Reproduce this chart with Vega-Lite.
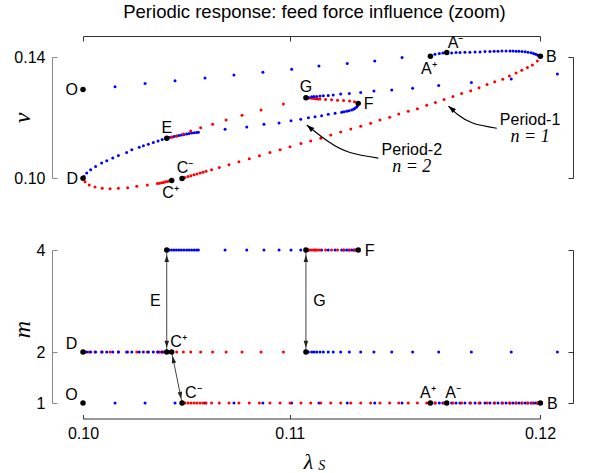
{
"$schema":"https://vega.github.io/schema/vega-lite/v6.json",
"autosize":{"type":"none"},
"padding":{"left":83,"top":57,"right":49,"bottom":416},
"title":{"text":"Periodic response: feed force influence (zoom)","font":"Liberation Sans","fontSize":18.5,"fontWeight":"normal","color":"#000","anchor":"middle","frame":"group","offset":14,"dx":3},
"config":{"view":{"stroke":null},"axis":{"grid":false,"labelFont":"Liberation Sans","labelFontSize":16,"labelColor":"#000","labelFlush":false,"labelOverlap":false},"text":{"font":"Liberation Sans","fontSize":16,"color":"#000"}},
"datasets":{
"curve":[
{"lam":0.10000,"v":0.12928,"m":1,"stability":"stable"},
{"lam":0.10155,"v":0.13013,"m":1,"stability":"stable"},
{"lam":0.10300,"v":0.13125,"m":1,"stability":"stable"},
{"lam":0.10445,"v":0.13211,"m":1,"stability":"stable"},
{"lam":0.10590,"v":0.13309,"m":1,"stability":"stable"},
{"lam":0.10730,"v":0.13408,"m":1,"stability":"stable"},
{"lam":0.10870,"v":0.13497,"m":1,"stability":"stable"},
{"lam":0.11009,"v":0.13595,"m":1,"stability":"stable"},
{"lam":0.11141,"v":0.13704,"m":1,"stability":"stable"},
{"lam":0.11278,"v":0.13783,"m":1,"stability":"stable"},
{"lam":0.11411,"v":0.13868,"m":1,"stability":"stable"},
{"lam":0.11543,"v":0.13980,"m":1,"stability":"stable"},
{"lam":0.11680,"v":0.14023,"m":1,"stability":"stable"},
{"lam":0.11702,"v":0.14089,"m":1,"stability":"stable"},
{"lam":0.11723,"v":0.14112,"m":1,"stability":"stable"},
{"lam":0.11740,"v":0.14132,"m":1,"stability":"stable"},
{"lam":0.11759,"v":0.14145,"m":1,"stability":"stable"},
{"lam":0.11783,"v":0.14132,"m":1,"stability":"stable"},
{"lam":0.11804,"v":0.14145,"m":1,"stability":"stable"},
{"lam":0.11823,"v":0.14145,"m":1,"stability":"stable"},
{"lam":0.11847,"v":0.14155,"m":1,"stability":"stable"},
{"lam":0.11871,"v":0.14155,"m":1,"stability":"stable"},
{"lam":0.11896,"v":0.14164,"m":1,"stability":"stable"},
{"lam":0.11920,"v":0.14164,"m":1,"stability":"stable"},
{"lam":0.11944,"v":0.14178,"m":1,"stability":"stable"},
{"lam":0.11968,"v":0.14178,"m":1,"stability":"stable"},
{"lam":0.11988,"v":0.14188,"m":1,"stability":"stable"},
{"lam":0.12007,"v":0.14194,"m":1,"stability":"stable"},
{"lam":0.12026,"v":0.14197,"m":1,"stability":"stable"},
{"lam":0.12046,"v":0.14197,"m":1,"stability":"stable"},
{"lam":0.12065,"v":0.14197,"m":1,"stability":"stable"},
{"lam":0.12079,"v":0.14197,"m":1,"stability":"stable"},
{"lam":0.12094,"v":0.14194,"m":1,"stability":"stable"},
{"lam":0.12108,"v":0.14188,"m":1,"stability":"stable"},
{"lam":0.12123,"v":0.14181,"m":1,"stability":"stable"},
{"lam":0.12138,"v":0.14171,"m":1,"stability":"stable"},
{"lam":0.12152,"v":0.14158,"m":1,"stability":"stable"},
{"lam":0.12167,"v":0.14138,"m":1,"stability":"stable"},
{"lam":0.12179,"v":0.14115,"m":1,"stability":"stable"},
{"lam":0.12189,"v":0.14089,"m":1,"stability":"stable"},
{"lam":0.12198,"v":0.14063,"m":1,"stability":"stable"},
{"lam":0.12205,"v":0.14039,"m":1,"stability":"stable"},
{"lam":0.12197,"v":0.13868,"m":1,"stability":"unstable"},
{"lam":0.12173,"v":0.13737,"m":1,"stability":"unstable"},
{"lam":0.12149,"v":0.13651,"m":1,"stability":"unstable"},
{"lam":0.12122,"v":0.13562,"m":1,"stability":"unstable"},
{"lam":0.12094,"v":0.13474,"m":1,"stability":"unstable"},
{"lam":0.12062,"v":0.13375,"m":1,"stability":"unstable"},
{"lam":0.12030,"v":0.13266,"m":1,"stability":"unstable"},
{"lam":0.11991,"v":0.13178,"m":1,"stability":"unstable"},
{"lam":0.11954,"v":0.13092,"m":1,"stability":"unstable"},
{"lam":0.11915,"v":0.12980,"m":1,"stability":"unstable"},
{"lam":0.11875,"v":0.12882,"m":1,"stability":"unstable"},
{"lam":0.11831,"v":0.12796,"m":1,"stability":"unstable"},
{"lam":0.11789,"v":0.12697,"m":1,"stability":"unstable"},
{"lam":0.11746,"v":0.12599,"m":1,"stability":"unstable"},
{"lam":0.11704,"v":0.12500,"m":1,"stability":"unstable"},
{"lam":0.11662,"v":0.12401,"m":1,"stability":"unstable"},
{"lam":0.11617,"v":0.12289,"m":1,"stability":"unstable"},
{"lam":0.11573,"v":0.12204,"m":1,"stability":"unstable"},
{"lam":0.11527,"v":0.12115,"m":1,"stability":"unstable"},
{"lam":0.11483,"v":0.12007,"m":1,"stability":"unstable"},
{"lam":0.11436,"v":0.11918,"m":1,"stability":"unstable"},
{"lam":0.11391,"v":0.11809,"m":1,"stability":"unstable"},
{"lam":0.11343,"v":0.11711,"m":1,"stability":"unstable"},
{"lam":0.11295,"v":0.11622,"m":1,"stability":"unstable"},
{"lam":0.11246,"v":0.11523,"m":1,"stability":"unstable"},
{"lam":0.11198,"v":0.11424,"m":1,"stability":"unstable"},
{"lam":0.11150,"v":0.11316,"m":1,"stability":"unstable"},
{"lam":0.11101,"v":0.11227,"m":1,"stability":"unstable"},
{"lam":0.11054,"v":0.11138,"m":1,"stability":"unstable"},
{"lam":0.11001,"v":0.11033,"m":1,"stability":"unstable"},
{"lam":0.10953,"v":0.10934,"m":1,"stability":"unstable"},
{"lam":0.10904,"v":0.10839,"m":1,"stability":"unstable"},
{"lam":0.10853,"v":0.10734,"m":1,"stability":"unstable"},
{"lam":0.10804,"v":0.10638,"m":1,"stability":"unstable"},
{"lam":0.10754,"v":0.10536,"m":1,"stability":"unstable"},
{"lam":0.10706,"v":0.10441,"m":1,"stability":"unstable"},
{"lam":0.10659,"v":0.10345,"m":1,"stability":"unstable"},
{"lam":0.10622,"v":0.10273,"m":1,"stability":"unstable"},
{"lam":0.10595,"v":0.10224,"m":1,"stability":"unstable"},
{"lam":0.10580,"v":0.10194,"m":1,"stability":"unstable"},
{"lam":0.10566,"v":0.10164,"m":1,"stability":"unstable"},
{"lam":0.10551,"v":0.10135,"m":1,"stability":"unstable"},
{"lam":0.10537,"v":0.10105,"m":1,"stability":"unstable"},
{"lam":0.10522,"v":0.10076,"m":1,"stability":"unstable"},
{"lam":0.10508,"v":0.10046,"m":1,"stability":"unstable"},
{"lam":0.10493,"v":0.10016,"m":1,"stability":"unstable"},
{"lam":0.10418,"v":0.09905,"m":2,"stability":"unstable"},
{"lam":0.10409,"v":0.09888,"m":2,"stability":"unstable"},
{"lam":0.10399,"v":0.09872,"m":2,"stability":"unstable"},
{"lam":0.10389,"v":0.09855,"m":2,"stability":"unstable"},
{"lam":0.10380,"v":0.09842,"m":2,"stability":"unstable"},
{"lam":0.10370,"v":0.09829,"m":2,"stability":"unstable"},
{"lam":0.10360,"v":0.09816,"m":2,"stability":"unstable"},
{"lam":0.10311,"v":0.09770,"m":2,"stability":"unstable"},
{"lam":0.10260,"v":0.09724,"m":2,"stability":"unstable"},
{"lam":0.10216,"v":0.09681,"m":2,"stability":"unstable"},
{"lam":0.10171,"v":0.09658,"m":2,"stability":"unstable"},
{"lam":0.10131,"v":0.09648,"m":2,"stability":"unstable"},
{"lam":0.10093,"v":0.09658,"m":2,"stability":"unstable"},
{"lam":0.10058,"v":0.09704,"m":2,"stability":"unstable"},
{"lam":0.10030,"v":0.09770,"m":2,"stability":"unstable"},
{"lam":0.10010,"v":0.09878,"m":2,"stability":"unstable"},
{"lam":0.10005,"v":0.10053,"m":2,"stability":"stable"},
{"lam":0.10018,"v":0.10164,"m":2,"stability":"stable"},
{"lam":0.10037,"v":0.10273,"m":2,"stability":"stable"},
{"lam":0.10061,"v":0.10382,"m":2,"stability":"stable"},
{"lam":0.10090,"v":0.10493,"m":2,"stability":"stable"},
{"lam":0.10115,"v":0.10569,"m":2,"stability":"stable"},
{"lam":0.10144,"v":0.10658,"m":2,"stability":"stable"},
{"lam":0.10171,"v":0.10743,"m":2,"stability":"stable"},
{"lam":0.10211,"v":0.10842,"m":2,"stability":"stable"},
{"lam":0.10236,"v":0.10931,"m":2,"stability":"stable"},
{"lam":0.10272,"v":0.11020,"m":2,"stability":"stable"},
{"lam":0.10292,"v":0.11063,"m":2,"stability":"stable"},
{"lam":0.10316,"v":0.11118,"m":2,"stability":"stable"},
{"lam":0.10340,"v":0.11171,"m":2,"stability":"stable"},
{"lam":0.10363,"v":0.11227,"m":2,"stability":"stable"},
{"lam":0.10383,"v":0.11276,"m":2,"stability":"stable"},
{"lam":0.10416,"v":0.11336,"m":4,"stability":"stable"},
{"lam":0.10428,"v":0.11352,"m":4,"stability":"stable"},
{"lam":0.10440,"v":0.11372,"m":4,"stability":"stable"},
{"lam":0.10452,"v":0.11391,"m":4,"stability":"stable"},
{"lam":0.10464,"v":0.11408,"m":4,"stability":"stable"},
{"lam":0.10476,"v":0.11424,"m":4,"stability":"stable"},
{"lam":0.10488,"v":0.11441,"m":4,"stability":"stable"},
{"lam":0.10501,"v":0.11457,"m":4,"stability":"stable"},
{"lam":0.10513,"v":0.11474,"m":4,"stability":"stable"},
{"lam":0.10525,"v":0.11487,"m":4,"stability":"stable"},
{"lam":0.10537,"v":0.11497,"m":4,"stability":"stable"},
{"lam":0.10549,"v":0.11507,"m":4,"stability":"stable"},
{"lam":0.10558,"v":0.11513,"m":4,"stability":"stable"},
{"lam":0.10687,"v":0.11612,"m":4,"stability":"stable"},
{"lam":0.10792,"v":0.11688,"m":4,"stability":"stable"},
{"lam":0.10875,"v":0.11776,"m":4,"stability":"stable"},
{"lam":0.10948,"v":0.11819,"m":4,"stability":"stable"},
{"lam":0.11006,"v":0.11895,"m":4,"stability":"stable"},
{"lam":0.11053,"v":0.11941,"m":4,"stability":"stable"},
{"lam":0.11090,"v":0.11993,"m":4,"stability":"stable"},
{"lam":0.11122,"v":0.12026,"m":4,"stability":"stable"},
{"lam":0.11154,"v":0.12059,"m":4,"stability":"stable"},
{"lam":0.11186,"v":0.12105,"m":4,"stability":"stable"},
{"lam":0.11219,"v":0.12138,"m":4,"stability":"stable"},
{"lam":0.11251,"v":0.12171,"m":4,"stability":"stable"},
{"lam":0.11262,"v":0.12188,"m":4,"stability":"stable"},
{"lam":0.11275,"v":0.12204,"m":4,"stability":"stable"},
{"lam":0.11286,"v":0.12224,"m":4,"stability":"stable"},
{"lam":0.11299,"v":0.12247,"m":4,"stability":"stable"},
{"lam":0.11308,"v":0.12270,"m":4,"stability":"stable"},
{"lam":0.11315,"v":0.12303,"m":4,"stability":"stable"},
{"lam":0.11322,"v":0.12336,"m":4,"stability":"stable"},
{"lam":0.11327,"v":0.12378,"m":4,"stability":"stable"},
{"lam":0.11329,"v":0.12424,"m":4,"stability":"stable"},
{"lam":0.11313,"v":0.12520,"m":4,"stability":"unstable"},
{"lam":0.11289,"v":0.12543,"m":4,"stability":"unstable"},
{"lam":0.11260,"v":0.12559,"m":4,"stability":"unstable"},
{"lam":0.11231,"v":0.12572,"m":4,"stability":"unstable"},
{"lam":0.11202,"v":0.12586,"m":4,"stability":"unstable"},
{"lam":0.11173,"v":0.12599,"m":4,"stability":"unstable"},
{"lam":0.11146,"v":0.12609,"m":4,"stability":"unstable"},
{"lam":0.11136,"v":0.12615,"m":4,"stability":"unstable"},
{"lam":0.11127,"v":0.12622,"m":4,"stability":"unstable"},
{"lam":0.11117,"v":0.12628,"m":4,"stability":"unstable"},
{"lam":0.11107,"v":0.12635,"m":4,"stability":"unstable"},
{"lam":0.11098,"v":0.12641,"m":4,"stability":"unstable"},
{"lam":0.11088,"v":0.12648,"m":4,"stability":"unstable"},
{"lam":0.10430,"v":0.11349,"m":2,"stability":"unstable"},
{"lam":0.10453,"v":0.11391,"m":2,"stability":"unstable"},
{"lam":0.10485,"v":0.11457,"m":2,"stability":"unstable"},
{"lam":0.10521,"v":0.11556,"m":2,"stability":"unstable"},
{"lam":0.10569,"v":0.11664,"m":2,"stability":"unstable"},
{"lam":0.10627,"v":0.11776,"m":2,"stability":"unstable"},
{"lam":0.10692,"v":0.11918,"m":2,"stability":"unstable"},
{"lam":0.10769,"v":0.12072,"m":2,"stability":"unstable"},
{"lam":0.10861,"v":0.12247,"m":2,"stability":"unstable"},
{"lam":0.10969,"v":0.12444,"m":2,"stability":"unstable"},
{"lam":0.11090,"v":0.12664,"m":2,"stability":"stable"},
{"lam":0.11106,"v":0.12684,"m":2,"stability":"stable"},
{"lam":0.11117,"v":0.12691,"m":2,"stability":"stable"},
{"lam":0.11130,"v":0.12697,"m":2,"stability":"stable"},
{"lam":0.11146,"v":0.12707,"m":2,"stability":"stable"},
{"lam":0.11162,"v":0.12717,"m":2,"stability":"stable"},
{"lam":0.11186,"v":0.12730,"m":2,"stability":"stable"},
{"lam":0.11210,"v":0.12740,"m":2,"stability":"stable"},
{"lam":0.11246,"v":0.12773,"m":2,"stability":"stable"},
{"lam":0.11288,"v":0.12796,"m":2,"stability":"stable"},
{"lam":0.11343,"v":0.12829,"m":2,"stability":"stable"},
{"lam":0.11407,"v":0.12872,"m":2,"stability":"stable"},
{"lam":0.11493,"v":0.12905,"m":2,"stability":"stable"},
{"lam":0.11594,"v":0.12970,"m":2,"stability":"stable"},
{"lam":0.11720,"v":0.13059,"m":2,"stability":"stable"},
{"lam":0.11878,"v":0.13158,"m":2,"stability":"stable"},
{"lam":0.12071,"v":0.13276,"m":2,"stability":"stable"},
{"lam":0.12294,"v":0.13441,"m":2,"stability":"stable"}
],
"pointsV":[
{"name":"O","lam":0.1,"v":0.12928},
{"name":"D","lam":0.1,"v":0.0999},
{"name":"E","lam":0.10405,"v":0.11316},
{"name":"C⁻","lam":0.10479,"v":0.09987},
{"name":"C⁺","lam":0.10429,"v":0.09921},
{"name":"G","lam":0.11078,"v":0.12651},
{"name":"F","lam":0.11331,"v":0.12467},
{"name":"A⁺","lam":0.1168,"v":0.14023},
{"name":"A⁻","lam":0.11759,"v":0.14145},
{"name":"B","lam":0.12212,"v":0.14023}
],
"pointsM":[
{"name":"O","lam":0.1,"m":1},
{"name":"D","lam":0.1,"m":2},
{"name":"E","lam":0.10405,"m":4},
{"name":"E","lam":0.10405,"m":2},
{"name":"C⁺","lam":0.10429,"m":2},
{"name":"C⁻","lam":0.10479,"m":1},
{"name":"G","lam":0.11078,"m":4},
{"name":"G","lam":0.11078,"m":2},
{"name":"F","lam":0.11331,"m":4},
{"name":"A⁺","lam":0.1168,"m":1},
{"name":"A⁻","lam":0.11759,"m":1},
{"name":"B","lam":0.12212,"m":1}
],
"arrowsV":[
{"id":"p1","ord":1,"lam":0.12001,"v":0.11645},
{"id":"p1","ord":2,"lam":0.11887,"v":0.11809},
{"id":"p1","ord":3,"lam":0.11815,"v":0.12082},
{"id":"p1","ord":4,"lam":0.11767,"v":0.12378},
{"id":"p2","ord":1,"lam":0.11428,"v":0.10658},
{"id":"p2","ord":2,"lam":0.11291,"v":0.10842},
{"id":"p2","ord":3,"lam":0.11186,"v":0.11204},
{"id":"p2","ord":4,"lam":0.11082,"v":0.11753}
],
"notesV":[
{"note":"Period-1","lam":0.12162,"v":0.11918},
{"note":"n = 1","lam":0.12162,"v":0.11349},
{"note":"Period-2","lam":0.1159,"v":0.10931},
{"note":"n = 2","lam":0.1159,"v":0.10362}
],
"arrowsM":[
{"name":"E","lam":0.10405,"lam2":0.10405,"m":2,"m2":4,"mmid":3},
{"name":"G","lam":0.11078,"lam2":0.11078,"m":2,"m2":4,"mmid":3},
{"name":"C","lam":0.10429,"lam2":0.10479,"m":2,"m2":1,"mmid":1.5}
],
"notesM":[
{"note":"S","lam":0.11155,"m":-0.235}
]
},
"spacing":72,
"bounds":"flush",
"vconcat":[
{
"width":457,"height":121,
"resolve":{"axis":{"x":"independent","y":"independent"}},
"layer":[
{"data":{"name":"curve"},"mark":{"type":"point","filled":true,"size":9,"opacity":1},
 "encoding":{
  "x":{"field":"lam","type":"quantitative","scale":{"domain":[0.1,0.1221],"nice":false,"zero":false},
   "axis":{"orient":"top","values":[0.1,0.11,0.1221],"labels":false,"title":null,"domainColor":"#333","tickColor":"#333","tickSize":-5,"offset":21}},
  "y":{"field":"v","type":"quantitative","scale":{"domain":[0.1,0.14],"nice":false,"zero":false},
   "axis":{"orient":"left","values":[0.1,0.14],"format":".2f","domainColor":"#888","tickColor":"#888","tickSize":-5,"offset":31,"labelPadding":12,"title":"v","titleFont":"Liberation Serif","titleFontStyle":"italic","titleFontWeight":"normal","titleFontSize":24,"titleColor":"#000","titleX":-29.5,"titleY":60.5,"titleAngle":-90,"titleAlign":"center","titleBaseline":"middle"}},
  "color":{"field":"stability","type":"nominal","scale":{"domain":["stable","unstable"],"range":["#0000ff","#ff0000"]},"legend":null}
 }},
{"data":{"name":"arrowsV"},"mark":{"type":"line","color":"#000","strokeWidth":1.2,"interpolate":"natural"},
 "encoding":{"x":{"field":"lam","type":"quantitative","axis":null},"y":{"field":"v","type":"quantitative","axis":null},"detail":{"field":"id"},"order":{"field":"ord"}}},
{"data":{"name":"arrowsV"},"transform":[{"filter":{"field":"ord","equal":4}}],"mark":{"type":"point","filled":true,"opacity":1,"color":"#000","size":49,"shape":"M0,0L-0.75,2.2L0.75,2.2Z","angle":310},
 "encoding":{"x":{"field":"lam","type":"quantitative","axis":null},"y":{"field":"v","type":"quantitative","axis":null}}},
{"data":{"name":"pointsV"},"mark":{"type":"point","filled":true,"opacity":1,"color":"#000","size":30},
 "encoding":{"x":{"field":"lam","type":"quantitative","axis":null},
  "y":{"field":"v","type":"quantitative","axis":{"orient":"right","values":[0.1,0.14],"labels":false,"title":null,"domainColor":"#333","tickColor":"#333","tickSize":-5,"offset":33}}}},
{"data":{"name":"pointsV"},"transform":[{"filter":{"field":"name","oneOf":["O","D"]}}],"mark":{"type":"text","align":"right","baseline":"middle","dx":-5,"dy":1},
 "encoding":{"x":{"field":"lam","type":"quantitative","axis":null},"y":{"field":"v","type":"quantitative","axis":null},"text":{"field":"name"}}},
{"data":{"name":"pointsV"},"transform":[{"filter":{"field":"name","oneOf":["E","G"]}}],"mark":{"type":"text","align":"center","baseline":"middle","dy":-10.5},
 "encoding":{"x":{"field":"lam","type":"quantitative","axis":null},"y":{"field":"v","type":"quantitative","axis":null},"text":{"field":"name"}}},
{"data":{"name":"pointsV"},"transform":[{"filter":{"field":"name","oneOf":["C⁻"]}}],"mark":{"type":"text","align":"center","baseline":"middle","dx":3,"dy":-10},
 "encoding":{"x":{"field":"lam","type":"quantitative","axis":null},"y":{"field":"v","type":"quantitative","axis":null},"text":{"field":"name"}}},
{"data":{"name":"pointsV"},"transform":[{"filter":{"field":"name","oneOf":["F","B"]}}],"mark":{"type":"text","align":"left","baseline":"middle","dx":5.5,"dy":0.5},
 "encoding":{"x":{"field":"lam","type":"quantitative","axis":null},"y":{"field":"v","type":"quantitative","axis":null},"text":{"field":"name"}}},
{"data":{"name":"pointsV"},"transform":[{"filter":{"field":"name","oneOf":["A⁻"]}}],"mark":{"type":"text","align":"left","baseline":"middle","dx":1,"dy":-9.5},
 "encoding":{"x":{"field":"lam","type":"quantitative","axis":null},"y":{"field":"v","type":"quantitative","axis":null},"text":{"field":"name"}}},
{"data":{"name":"pointsV"},"transform":[{"filter":{"field":"name","oneOf":["C⁺","A⁺"]}}],"mark":{"type":"text","align":"left","baseline":"middle","dx":-9.5,"dy":12.5},
 "encoding":{"x":{"field":"lam","type":"quantitative","axis":null},"y":{"field":"v","type":"quantitative","axis":null},"text":{"field":"name"}}},
{"data":{"name":"notesV"},"transform":[{"filter":{"field":"note","oneOf":["Period-1","Period-2"]}}],"mark":{"type":"text","align":"center","baseline":"middle","fontSize":16},
 "encoding":{"x":{"field":"lam","type":"quantitative","axis":null},"y":{"field":"v","type":"quantitative","axis":null},"text":{"field":"note"}}},
{"data":{"name":"notesV"},"transform":[{"filter":{"field":"note","oneOf":["n = 1","n = 2"]}}],"mark":{"type":"text","align":"center","baseline":"middle","font":"Liberation Serif","fontStyle":"italic","fontSize":18},
 "encoding":{"x":{"field":"lam","type":"quantitative","axis":null},"y":{"field":"v","type":"quantitative","axis":null},"text":{"field":"note"}}}
]
},
{
"width":457,"height":153,
"resolve":{"axis":{"x":"independent","y":"independent"}},
"layer":[
{"data":{"name":"curve"},"mark":{"type":"point","filled":true,"size":9,"opacity":1},
 "encoding":{
  "x":{"field":"lam","type":"quantitative","scale":{"domain":[0.1,0.1221],"nice":false,"zero":false},
   "axis":{"orient":"bottom","values":[0.1,0.11,0.1221],"format":".2f","domainColor":"#333","tickColor":"#333","tickSize":-4,"offset":15.5,"labelPadding":11,"title":"λ","titleFont":"Liberation Serif","titleFontStyle":"italic","titleFontWeight":"normal","titleFontSize":22,"titleColor":"#000","titleX":225,"titleY":49.5,"titleAlign":"center","titleBaseline":"alphabetic"}},
  "y":{"field":"m","type":"quantitative","scale":{"domain":[1,4],"nice":false,"zero":false},
   "axis":{"orient":"left","values":[1,2,4],"format":"d","domainColor":"#888","tickColor":"#888","tickSize":-5,"offset":31,"labelPadding":12,"title":"m","titleFont":"Liberation Serif","titleFontStyle":"italic","titleFontWeight":"normal","titleFontSize":24,"titleColor":"#000","titleX":-29.5,"titleY":79,"titleAngle":-90,"titleAlign":"center","titleBaseline":"middle"}},
  "color":{"field":"stability","type":"nominal","scale":{"domain":["stable","unstable"],"range":["#0000ff","#ff0000"]},"legend":null}
 }},
{"data":{"name":"arrowsM"},"mark":{"type":"rule","color":"#444","strokeWidth":1},
 "encoding":{"x":{"field":"lam","type":"quantitative","axis":null},"x2":{"field":"lam2"},"y":{"field":"m","type":"quantitative","axis":null},"y2":{"field":"m2"}}},
{"data":{"name":"arrowsM"},"transform":[{"filter":{"field":"name","oneOf":["E","G"]}}],"mark":{"type":"point","filled":true,"opacity":1,"color":"#222","size":49,"shape":"M0,1.4L-0.65,3.4L0.65,3.4Z"},
 "encoding":{"x":{"field":"lam","type":"quantitative","axis":null},"y":{"field":"m2","type":"quantitative","axis":null}}},
{"data":{"name":"arrowsM"},"transform":[{"filter":{"field":"name","oneOf":["E","G"]}}],"mark":{"type":"point","filled":true,"opacity":1,"color":"#222","size":49,"shape":"M0,-1.2L-0.65,-3.2L0.65,-3.2Z"},
 "encoding":{"x":{"field":"lam","type":"quantitative","axis":null},"y":{"field":"m","type":"quantitative","axis":null}}},
{"data":{"name":"arrowsM"},"transform":[{"filter":{"field":"name","equal":"C"}}],"mark":{"type":"point","filled":true,"opacity":1,"color":"#222","size":49,"shape":"M0,1.2L-0.65,3.2L0.65,3.2Z","angle":348.7},
 "encoding":{"x":{"field":"lam","type":"quantitative","axis":null},"y":{"field":"m","type":"quantitative","axis":null}}},
{"data":{"name":"arrowsM"},"transform":[{"filter":{"field":"name","equal":"C"}}],"mark":{"type":"point","filled":true,"opacity":1,"color":"#222","size":49,"shape":"M0,-1.2L-0.65,-3.2L0.65,-3.2Z","angle":348.7},
 "encoding":{"x":{"field":"lam2","type":"quantitative","axis":null},"y":{"field":"m2","type":"quantitative","axis":null}}},
{"data":{"name":"pointsM"},"mark":{"type":"point","filled":true,"opacity":1,"color":"#000","size":30},
 "encoding":{"x":{"field":"lam","type":"quantitative","axis":null},
  "y":{"field":"m","type":"quantitative","axis":{"orient":"right","values":[1,2,4],"labels":false,"title":null,"domainColor":"#333","tickColor":"#333","tickSize":-5,"offset":33}}}},
{"data":{"name":"pointsM"},"transform":[{"filter":{"field":"name","oneOf":["O","D"]}}],"mark":{"type":"text","align":"center","baseline":"middle","dx":-11.5,"dy":-8.5},
 "encoding":{"x":{"field":"lam","type":"quantitative","axis":null},"y":{"field":"m","type":"quantitative","axis":null},"text":{"field":"name"}}},
{"data":{"name":"pointsM"},"transform":[{"filter":{"field":"name","oneOf":["C⁺","A⁻"]}}],"mark":{"type":"text","align":"left","baseline":"middle","dx":-1.5,"dy":-10},
 "encoding":{"x":{"field":"lam","type":"quantitative","axis":null},"y":{"field":"m","type":"quantitative","axis":null},"text":{"field":"name"}}},
{"data":{"name":"pointsM"},"transform":[{"filter":{"field":"name","oneOf":["C⁻"]}}],"mark":{"type":"text","align":"left","baseline":"middle","dx":3,"dy":-10},
 "encoding":{"x":{"field":"lam","type":"quantitative","axis":null},"y":{"field":"m","type":"quantitative","axis":null},"text":{"field":"name"}}},
{"data":{"name":"pointsM"},"transform":[{"filter":{"field":"name","oneOf":["A⁺"]}}],"mark":{"type":"text","align":"left","baseline":"middle","dx":-10.3,"dy":-10.5},
 "encoding":{"x":{"field":"lam","type":"quantitative","axis":null},"y":{"field":"m","type":"quantitative","axis":null},"text":{"field":"name"}}},
{"data":{"name":"pointsM"},"transform":[{"filter":{"field":"name","oneOf":["F","B"]}}],"mark":{"type":"text","align":"left","baseline":"middle","dx":6.5,"dy":1},
 "encoding":{"x":{"field":"lam","type":"quantitative","axis":null},"y":{"field":"m","type":"quantitative","axis":null},"text":{"field":"name"}}},
{"data":{"name":"arrowsM"},"transform":[{"filter":{"field":"name","equal":"E"}}],"mark":{"type":"text","align":"center","baseline":"middle","dx":-11.5},
 "encoding":{"x":{"field":"lam","type":"quantitative","axis":null},"y":{"field":"mmid","type":"quantitative","axis":null},"text":{"field":"name"}}},
{"data":{"name":"arrowsM"},"transform":[{"filter":{"field":"name","equal":"G"}}],"mark":{"type":"text","align":"center","baseline":"middle","dx":13.5},
 "encoding":{"x":{"field":"lam","type":"quantitative","axis":null},"y":{"field":"mmid","type":"quantitative","axis":null},"text":{"field":"name"}}},
{"data":{"name":"notesM"},"mark":{"type":"text","align":"center","baseline":"middle","font":"Liberation Serif","fontStyle":"italic","fontSize":14},
 "encoding":{"x":{"field":"lam","type":"quantitative","axis":null},"y":{"field":"m","type":"quantitative","axis":null},"text":{"field":"note"}}}
]
}
]
}
